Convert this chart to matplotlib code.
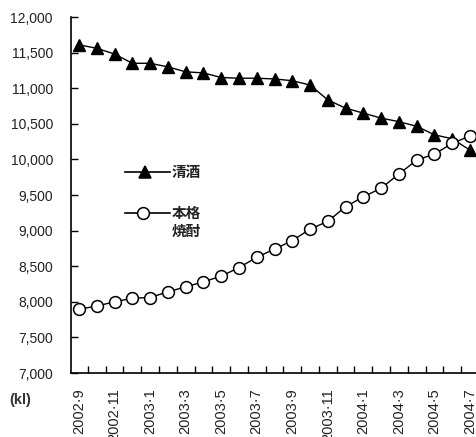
import matplotlib
matplotlib.use("Agg")
import matplotlib.pyplot as plt
from matplotlib.lines import Line2D

plt.rcParams['font.family'] = ['Liberation Sans', 'Noto Sans CJK JP', 'DejaVu Sans']

# monthly shipments, 2002-9 .. 2004-7 (kl)
months = ['2002·9', '2002·10', '2002·11', '2002·12', '2003·1', '2003·2', '2003·3',
          '2003·4', '2003·5', '2003·6', '2003·7', '2003·8', '2003·9', '2003·10',
          '2003·11', '2003·12', '2004·1', '2004·2', '2004·3', '2004·4', '2004·5',
          '2004·6', '2004·7']
seishu = [11610, 11560, 11480, 11350, 11350, 11300, 11230, 11215, 11150, 11140,
          11140, 11130, 11105, 11045, 10835, 10720, 10650, 10580, 10530, 10465,
          10345, 10290, 10130]
shochu = [7895, 7940, 8000, 8050, 8060, 8140, 8210, 8280, 8360, 8480,
          8625, 8740, 8860, 9020, 9130, 9335, 9475, 9595, 9795, 9990,
          10075, 10225, 10330]
yticks = [7000, 7500, 8000, 8500, 9000, 9500, 10000, 10500, 11000, 11500, 12000]

W, H = 477, 437
fig = plt.figure(figsize=(W / 100, H / 100), dpi=100)
ax = fig.add_axes([71 / W, (H - 373) / H, 407 / W, 356 / H])

x = list(range(len(months)))
ax.plot(x, seishu, color='black', lw=1.0, marker='^', ms=8.5,
        mfc='black', mec='black', zorder=3)
ax.plot(x, shochu, color='black', lw=1.0, marker='o', ms=8.5,
        mfc='white', mec='black', mew=1.1, zorder=4)

ax.set_xlim(-0.45, len(months) - 0.55)
ax.set_ylim(7000, 12000)
ax.set_yticks(yticks)
ax.set_yticklabels([f'{v:,}' for v in yticks], fontsize=10, color='#222222')
ax.tick_params(axis='y', direction='in', length=5, width=1, pad=13)

ax.set_xticks(x[::2])
ax.set_xticklabels(months[::2], rotation=90, fontsize=10.5, color='#222222')
ax.set_xticks([i + 0.5 for i in x[:-1]], minor=True)
ax.tick_params(axis='x', which='major', length=0, pad=11)
ax.tick_params(axis='x', which='minor', direction='in', length=5, width=1)

for s in ['top', 'right']:
    ax.spines[s].set_visible(False)
for s in ['left', 'bottom']:
    ax.spines[s].set_linewidth(1.2)

# legend drawn by hand so the two-line label hangs below its marker
def ax_pt(px, py):
    return (px - 71) / 407, (373 - py) / 356

for py, xm_px, mk, fc, lines in [(172, 145, '^', 'black', ['清酒']),
                                 (213, 143, 'o', 'white', ['本格', '焼酎'])]:
    x0, y0 = ax_pt(125, py)
    x1, _ = ax_pt(170, py)
    xm, _ = ax_pt(xm_px, py)
    ax.add_line(Line2D([x0, x1], [y0, y0], transform=ax.transAxes,
                       color='black', lw=1.2, zorder=5))
    ax.add_line(Line2D([xm], [y0], transform=ax.transAxes, marker=mk, ms=8.5,
                       mfc=fc, mec='black', mew=1.1, zorder=6))
    for k, t in enumerate(lines):
        tx, ty = ax_pt(172, py + k * 18)
        ax.text(tx, ty, t, transform=ax.transAxes, fontsize=10.5, va='center',
                ha='left', color='#222222', fontweight='bold',
                family=['Noto Sans CJK JP'])

fig.text(9 / W, 1 - 400 / H, '(kl)', fontsize=10.5, va='center', ha='left',
         color='#333333', fontweight='bold')

fig.savefig('out.png', dpi=100)
